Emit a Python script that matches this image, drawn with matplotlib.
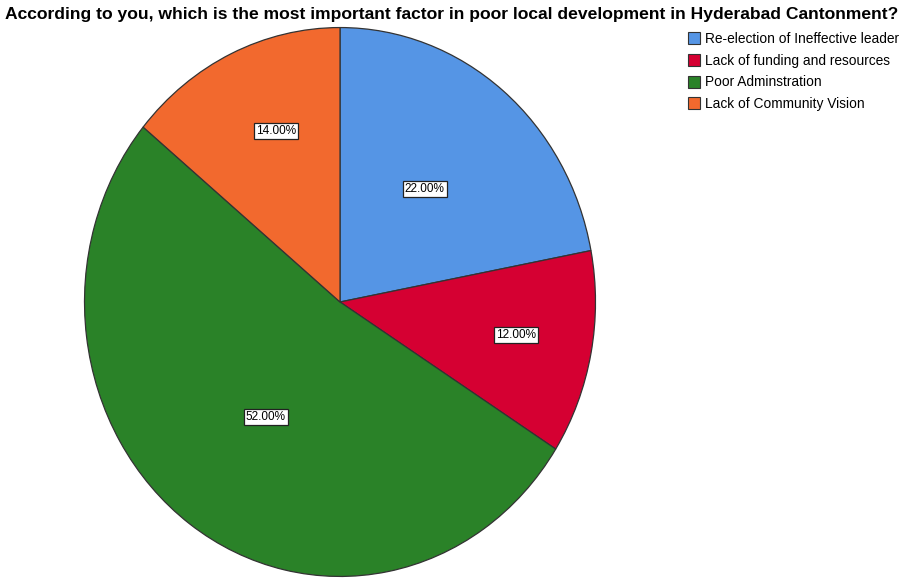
import numpy as np
import matplotlib.pyplot as plt
from matplotlib.patches import Patch

plt.rcParams['font.family'] = ['Liberation Sans', 'DejaVu Sans']

title = 'According to you, which is the most important factor in poor local development in Hyderabad Cantonment?'
categories = ['Re-election of Ineffective leader', 'Lack of funding and resources',
              'Poor Adminstration', 'Lack of Community Vision']
percent = [22.0, 12.0, 52.0, 14.0]
colors = ['#5595e5', '#d50032', '#2a8228', '#f2692e']

# how far from the centre each percentage box sits (fraction of radius)
label_r = [0.52, 0.70, 0.52, 0.66]
label_shift = [0, 0, -2, 3]  # degrees

fig = plt.figure(figsize=(9.03, 5.79), dpi=100)
ax = fig.add_axes([84 / 903, 2 / 579, 512 / 903, 550 / 579])

wedges, _ = ax.pie(percent, colors=colors, startangle=90, counterclock=False,
                   wedgeprops=dict(edgecolor='#333333', linewidth=0.9))
ax.set_aspect('auto')
ax.set_xlim(-1.002, 1.002)
ax.set_ylim(-1.002, 1.002)

for w, p, r, s in zip(wedges, percent, label_r, label_shift):
    mid = np.deg2rad((w.theta1 + w.theta2) / 2 - s)
    ax.text(r * np.cos(mid), r * np.sin(mid) + 0.012, f'{p:.2f}%', ha='center', va='center',
            fontsize=8.5, bbox=dict(boxstyle='square,pad=0.18', fc='white', ec='#222222', lw=0.9))

fig.text(0.006, 0.988, title, ha='left', va='top', fontsize=12.6, fontweight='bold')

handles = [Patch(facecolor=c, edgecolor='#333333', linewidth=0.8) for c in colors]
fig.legend(handles, categories, loc='upper left', bbox_to_anchor=(688 / 903, 1 - 32 / 579),
           frameon=False, fontsize=9.9, handlelength=0.85, handleheight=0.95,
           handletextpad=0.4, labelspacing=0.56, borderpad=0, borderaxespad=0)

fig.savefig('out.png', dpi=100)
